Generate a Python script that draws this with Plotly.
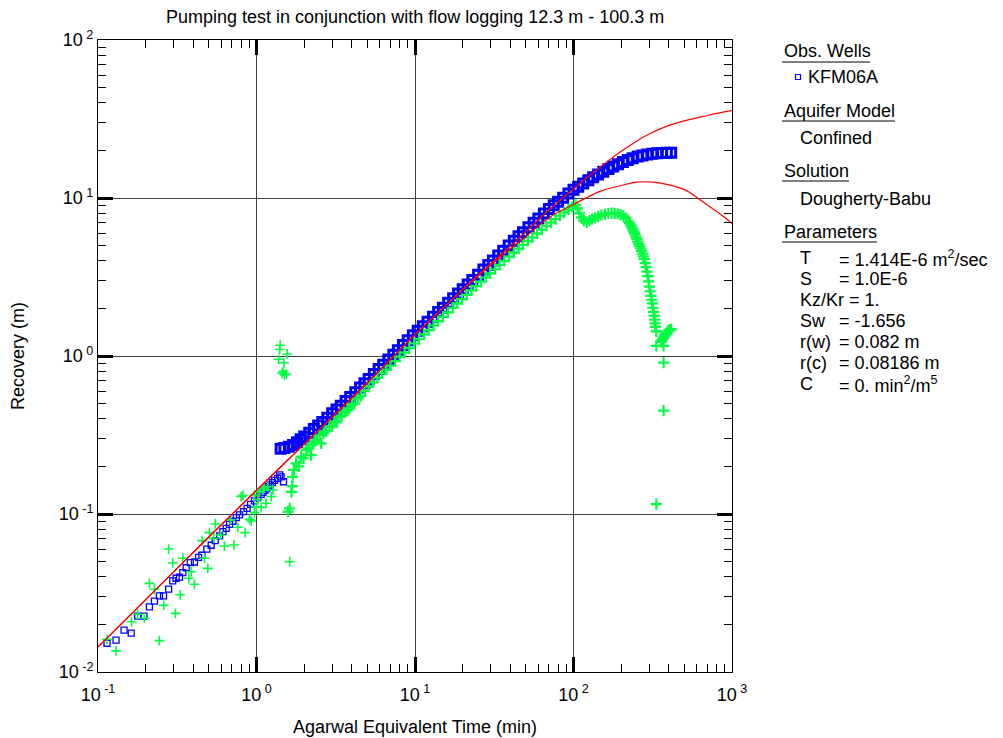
import plotly.graph_objects as go

# ---------------- data ----------------
# KFM06A observed recovery, early (sparse) part
obs_early_t = [0.114, 0.130, 0.146, 0.162, 0.178, 0.195, 0.211, 0.227, 0.244, 0.259,
               0.279, 0.296, 0.311, 0.327, 0.343, 0.360, 0.382, 0.406, 0.431, 0.452,
               0.486, 0.518, 0.549, 0.585, 0.614, 0.644, 0.676, 0.710, 0.745, 0.782,
               0.828, 0.873, 0.917, 0.971, 1.02, 1.07, 1.10, 1.13, 1.16, 1.19,
               1.22, 1.26, 1.30, 1.36, 1.40, 1.43, 1.48]
obs_early_s = [0.0152, 0.0159, 0.0184, 0.0176, 0.0226, 0.0226, 0.0258, 0.0281, 0.0303, 0.0303,
               0.0335, 0.0377, 0.0392, 0.0398, 0.0426, 0.0457, 0.0492, 0.0497, 0.0532, 0.0548,
               0.060, 0.0634, 0.0678, 0.0726, 0.0773, 0.0812, 0.086, 0.090, 0.0948, 0.0986,
               0.1035, 0.1087, 0.115, 0.121, 0.127, 0.133, 0.137, 0.141, 0.145, 0.149,
               0.153, 0.158, 0.163, 0.168, 0.177, 0.172, 0.160]

# KFM06A observed recovery, late (dense) part
obs_late_t = [1.42, 1.5, 1.6, 1.7, 1.8, 1.9, 2.0, 2.15, 2.3, 2.45, 2.6, 2.8, 3.0, 3.2, 3.4,
              3.65, 3.9, 4.2, 4.5, 4.8, 5.1, 5.5, 5.9, 6.3, 6.8, 7.3, 7.8, 8.4, 9.0, 9.7,
              10.4, 11.2, 12.0, 13.0, 14.0, 15.0, 16.2, 17.4, 18.7, 20, 21.5, 23, 25, 27, 29,
              31, 33.5, 36, 39, 42, 45, 48, 52, 56, 60, 65, 70, 75, 80, 86, 93, 100, 107,
              115, 124, 133, 143, 154, 166, 178, 191, 205, 220, 236, 254, 272, 292, 314,
              337, 362, 388, 413]
obs_late_s = [0.259, 0.262, 0.266, 0.2735, 0.285, 0.297, 0.309, 0.327, 0.345, 0.363, 0.382,
              0.407, 0.434, 0.459, 0.485, 0.519, 0.551, 0.590, 0.631, 0.673, 0.714, 0.769,
              0.826, 0.881, 0.951, 1.019, 1.089, 1.172, 1.256, 1.352, 1.445, 1.545, 1.648,
              1.774, 1.897, 2.023, 2.173, 2.323, 2.485, 2.648, 2.838, 3.027, 3.273, 3.524,
              3.767, 4.018, 4.325, 4.634, 5.0, 5.37, 5.73, 6.07, 6.53, 6.98, 7.43, 7.98,
              8.51, 8.99, 9.46, 10.02, 10.67, 11.27, 11.78, 12.36, 12.94, 13.52, 14.06,
              14.66, 15.24, 15.81, 16.37, 16.9, 17.42, 17.86, 18.28, 18.58, 18.84, 19.05,
              19.19, 19.28, 19.32, 19.36]

# Recovery derivative (green crosses), early scattered part
deriv_early_t = [0.114, 0.130, 0.163, 0.178, 0.196, 0.211, 0.227, 0.244, 0.260, 0.279,
                 0.296, 0.308, 0.330, 0.343, 0.374, 0.387, 0.406, 0.454, 0.470, 0.493,
                 0.505, 0.538, 0.549, 0.593, 0.628, 0.686, 0.720, 0.762, 0.800, 0.82,
                 0.849, 0.904, 0.926, 0.971, 0.97, 0.995, 1.02, 1.045, 1.07, 1.10,
                 1.12, 1.15, 1.18, 1.24, 1.27,
                 1.41, 1.40, 1.56, 1.38, 1.49, 1.47, 1.50, 1.45, 1.54, 1.62]
deriv_early_s = [0.0161, 0.0136, 0.0208, 0.0232, 0.0219, 0.0364, 0.0334, 0.0158, 0.0264, 0.060,
                 0.049, 0.0235, 0.0308, 0.0525, 0.0392, 0.0431, 0.0359, 0.0678, 0.0525, 0.0453,
                 0.0762, 0.0702, 0.0865, 0.0736, 0.0627, 0.0917, 0.0637, 0.0824, 0.129, 0.131,
                 0.0762, 0.0925, 0.0903, 0.102, 0.132, 0.111, 0.123, 0.138, 0.110, 0.142,
                 0.146, 0.117, 0.149, 0.129, 0.142,
                 1.17, 1.10, 1.03, 0.953, 0.907, 0.796, 0.758, 0.777, 0.77, 0.0499]

# Recovery derivative (green crosses), later dense part
deriv_late_t = [1.58, 1.62, 1.66, 1.68, 1.69, 1.72, 1.78, 1.85, 1.91, 1.98, 2.06, 2.13, 2.21,
                2.25, 2.32, 2.4, 2.5, 2.56, 2.65, 2.75, 2.89, 3.0, 3.1, 3.2, 3.34, 3.45, 3.6,
                3.75, 3.86, 4.0, 4.15, 4.36, 4.55, 4.8, 5.1, 5.42, 5.8, 6.2, 6.6, 7.0, 7.5,
                8.0, 8.6, 9.2, 9.9, 10.6, 11.4, 12.2, 13.1, 14.0, 15.0, 16.1, 17.3, 18.5,
                19.8, 21.2, 22.7, 24.3, 26, 27.9, 29.8, 31.9, 34.2, 36.6, 39.2, 42, 45, 48,
                51.5, 55, 59, 63, 67.5, 72, 77, 82, 87.5, 93, 98, 103, 106, 109, 112, 116,
                121, 126, 131, 137, 143, 150, 158, 166, 174, 182, 190, 198, 206, 214, 222,
                226, 230, 233.5, 237, 240.5, 244, 247.5, 251, 254.5, 258, 261.5, 265, 268.5,
                272, 276, 280, 283.5, 287, 290.5, 294, 297.5, 301, 304.5, 308, 311, 314, 317,
                320, 322.5, 325, 327, 329, 333,
                333, 370, 370, 370, 333,
                357, 362, 367, 372, 377, 382, 388, 394, 400, 406, 413]
deriv_late_s = [0.1035, 0.1087, 0.138, 0.150, 0.172, 0.19, 0.209, 0.200, 0.231, 0.225, 0.254,
                0.262, 0.236, 0.275, 0.287, 0.296, 0.316, 0.28, 0.325, 0.335, 0.357, 0.36,
                0.385, 0.38, 0.413, 0.42, 0.44, 0.455, 0.467, 0.49, 0.50, 0.54, 0.56, 0.60,
                0.64, 0.68, 0.73, 0.78, 0.82, 0.87, 0.93, 0.99, 1.05, 1.12, 1.20, 1.28, 1.37,
                1.46, 1.56, 1.66, 1.77, 1.89, 2.02, 2.15, 2.29, 2.44, 2.6, 2.77, 2.95, 3.14,
                3.33, 3.54, 3.77, 4.0, 4.25, 4.51, 4.78, 5.05, 5.35, 5.64, 5.97, 6.3, 6.65,
                6.99, 7.36, 7.72, 8.1, 8.45, 8.78, 9.05, 8.6, 8.0, 7.55, 7.2, 6.98, 7.2, 7.35,
                7.5, 7.65, 7.8, 7.9, 7.98, 8.02, 8.0, 7.95, 7.85, 7.7, 7.45, 7.1,
                6.9, 6.7, 6.5, 6.3, 6.1, 5.9, 5.7, 5.5, 5.3, 5.1, 4.95, 4.8, 4.62,
                4.45, 4.27, 4.1, 3.87, 3.65, 3.42, 3.2, 2.97, 2.75, 2.57, 2.4, 2.27, 2.15, 2.02,
                1.9, 1.8, 1.7, 1.61, 1.53, 1.43,
                1.16, 1.16, 0.907, 0.451, 0.1156,
                1.23, 1.26, 1.29, 1.32, 1.35, 1.38, 1.40, 1.43, 1.45, 1.47, 1.48]

# Dougherty-Babu type curve (red) and its derivative (red)
model_t = [0.1, 0.2, 0.5, 1, 2, 5, 10, 20, 50, 70, 100, 130, 150, 200, 250, 300, 400, 500,
           650, 800, 1000]
model_s = [0.0144, 0.0287, 0.0715, 0.141, 0.277, 0.675, 1.36, 2.64, 6.1, 8.4, 11.4, 14.2,
           15.9, 19.75, 22.9, 25.4, 28.8, 30.8, 32.7, 34.3, 35.7]
mderiv_t = [0.1, 0.2, 0.5, 1, 2, 5, 10, 20, 30, 50, 70, 100, 150, 200, 250, 320, 400, 520,
            650, 830, 1000]
mderiv_s = [0.0144, 0.0287, 0.0715, 0.141, 0.277, 0.675, 1.36, 2.62, 3.75, 5.7, 7.5, 9.1,
            11.1, 12.0, 12.6, 12.6, 12.1, 11.1, 9.5, 8.0, 6.9]

x_ticks = [0.1, 1, 10, 100, 1000]
x_tick_text = ["10<sup> -1</sup>", "10<sup> 0</sup>", "10<sup> 1</sup>", "10<sup> 2</sup>", "10<sup> 3</sup>"]
y_ticks = [0.01, 0.1, 1, 10, 100]
y_tick_text = ["10<sup> -2</sup>", "10<sup> -1</sup>", "10<sup> 0</sup>", "10<sup> 1</sup>", "10<sup> 2</sup>"]

title_text = "Pumping test in conjunction with flow logging 12.3 m - 100.3 m"
x_title = "Agarwal Equivalent Time (min)"
y_title = "Recovery (m)"

# ---------------- layout geometry ----------------
W, H = 1003, 738
L, R, T, B = 98, 732, 40, 672
FONT = "Liberation Sans, Arial, sans-serif"
BLUE = "#0000FF"
GREEN = "#00FF40"
RED = "#FF0000"


def xp(px):
    return (px - L) / (R - L)


def yp(py):
    return (B - py) / (B - T)


minor_x = [m * 10.0 ** e for e in range(-1, 3) for m in range(2, 10)]
minor_y = [m * 10.0 ** e for e in range(-2, 2) for m in range(2, 10)]

fig = go.Figure()
fig.add_trace(go.Scatter(x=obs_early_t, y=obs_early_s, mode="markers", name="KFM06A",
                         marker=dict(symbol="square-open", size=6, color=BLUE,
                                     line=dict(width=1.3, color=BLUE))))
fig.add_trace(go.Scatter(x=obs_late_t, y=obs_late_s, mode="markers", name="KFM06A",
                         marker=dict(symbol="square-open", size=9, color=BLUE,
                                     line=dict(width=3, color=BLUE))))
fig.add_trace(go.Scatter(x=deriv_early_t, y=deriv_early_s, mode="markers", name="derivative",
                         marker=dict(symbol="cross-thin-open", size=7, color=GREEN,
                                     line=dict(width=1.6, color=GREEN))))
fig.add_trace(go.Scatter(x=deriv_late_t, y=deriv_late_s, mode="markers", name="derivative",
                         marker=dict(symbol="cross-thin-open", size=8, color=GREEN,
                                     line=dict(width=2.2, color=GREEN))))
fig.add_trace(go.Scatter(x=model_t, y=model_s, mode="lines", name="type curve",
                         line=dict(color=RED, width=1.2, shape="spline")))
fig.add_trace(go.Scatter(x=mderiv_t, y=mderiv_s, mode="lines", name="derivative curve",
                         line=dict(color=RED, width=1.2, shape="spline")))

axis_common = dict(
    type="log", showline=True, linecolor="black", linewidth=1, mirror="ticks",
    ticks="inside", ticklen=15, tickwidth=2.5, tickcolor="black",
    showgrid=True, gridcolor="#404040", gridwidth=1, zeroline=False,
    tickfont=dict(family=FONT, size=18, color="black"),
)

fig.update_xaxes(range=[-1, 3], tickmode="array", tickvals=x_ticks, ticktext=x_tick_text,
                 ticklabelstandoff=6,
                 minor=dict(tickmode="array", tickvals=minor_x, ticks="inside", ticklen=8,
                            tickwidth=1, tickcolor="black", showgrid=False),
                 **axis_common)
fig.update_yaxes(range=[-2, 2], tickmode="array", tickvals=y_ticks, ticktext=y_tick_text,
                 minor=dict(tickmode="array", tickvals=minor_y, ticks="inside", ticklen=8,
                            tickwidth=1, tickcolor="black", showgrid=False),
                 **axis_common)

ann = []


def text(px, py, s, anchor="left", size=18, angle=0):
    ann.append(dict(x=xp(px), y=yp(py), xref="paper", yref="paper", text=s,
                    showarrow=False, xanchor=anchor, yanchor="middle", textangle=angle,
                    font=dict(family=FONT, size=size, color="black")))


text(415, 17, title_text, anchor="center")
text(415, 727, x_title, anchor="center")
text(18, 356, y_title, anchor="center", angle=-90)

# right-hand information panel
text(782, 51, "Obs. Wells")
text(806, 77, "KFM06A")
text(782, 111, "Aquifer Model")
text(798, 138, "Confined")
text(782, 171, "Solution")
text(798, 199, "Dougherty-Babu")
text(782, 232, "Parameters")

param_labels = ["T", "S", None, "Sw", "r(w)", "r(c)", "C"]
param_values = ["= 1.414E-6 m<sup>2</sup>/sec", "= 1.0E-6", "Kz/Kr = 1.", "= -1.656",
                "= 0.082 m", "= 0.08186 m", "= 0. min<sup>2</sup>/m<sup>5</sup>"]
for i, (lab, val) in enumerate(zip(param_labels, param_values)):
    yy = 258 + 21 * i
    if lab is None:
        text(798, yy, val)
    else:
        text(798, yy, lab)
        text(837, yy, val)

shapes = []
for x0, x1, yy in [(782, 870, 62), (782, 895, 121), (782, 849, 181), (782, 877, 242)]:
    shapes.append(dict(type="line", xref="paper", yref="paper", x0=xp(x0), x1=xp(x1),
                       y0=yp(yy), y1=yp(yy), line=dict(color="black", width=1)))
# legend glyph for KFM06A
shapes.append(dict(type="rect", xref="paper", yref="paper", x0=xp(795.5), x1=xp(800.5),
                   y0=yp(79.5), y1=yp(74.5), line=dict(color=BLUE, width=1.2)))

fig.update_layout(
    width=W, height=H, margin=dict(l=L, r=W - R, t=T, b=H - B, pad=0),
    paper_bgcolor="white", plot_bgcolor="white", showlegend=False,
    font=dict(family=FONT, size=18, color="black"),
    annotations=ann, shapes=shapes,
)

fig.write_html("out.html")
